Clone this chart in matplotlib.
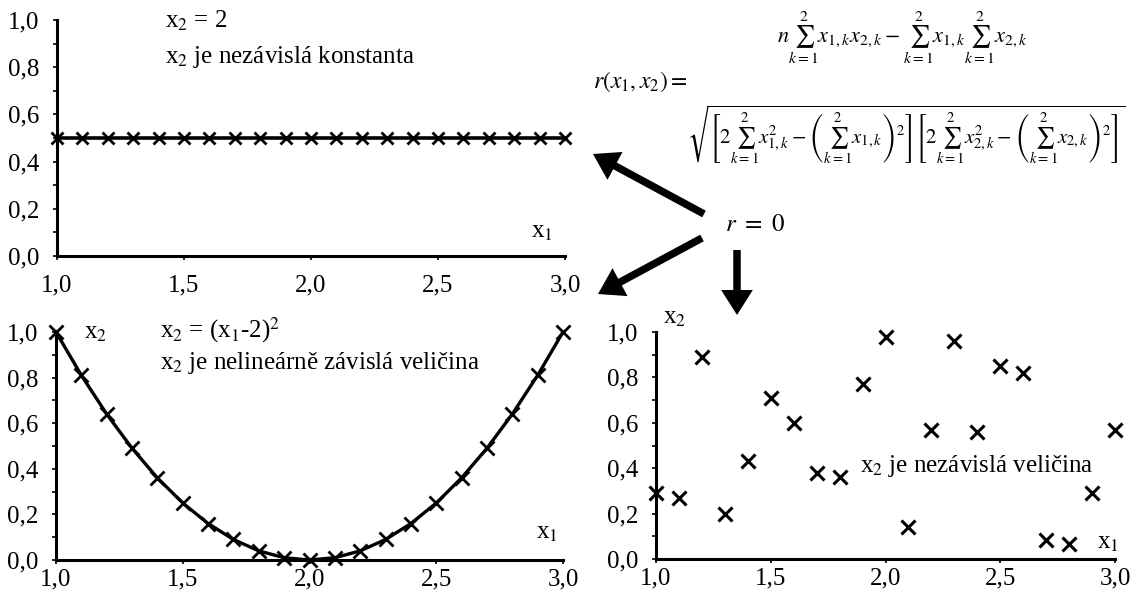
import matplotlib
matplotlib.use("Agg")
import matplotlib.pyplot as plt
from matplotlib.patches import FancyArrowPatch

plt.rcParams['font.family'] = ['Liberation Serif', 'DejaVu Serif']
plt.rcParams['mathtext.fontset'] = 'stix'

# ---------------- data ----------------
x1 = [1.0, 1.1, 1.2, 1.3, 1.4, 1.5, 1.6, 1.7, 1.8, 1.9, 2.0,
      2.1, 2.2, 2.3, 2.4, 2.5, 2.6, 2.7, 2.8, 2.9, 3.0]
x2_const = [0.5, 0.5, 0.5, 0.5, 0.5, 0.5, 0.5, 0.5, 0.5, 0.5, 0.5,
            0.5, 0.5, 0.5, 0.5, 0.5, 0.5, 0.5, 0.5, 0.5, 0.5]
x2_quad = [1.00, 0.81, 0.64, 0.49, 0.36, 0.25, 0.16, 0.09, 0.04, 0.01, 0.00,
           0.01, 0.04, 0.09, 0.16, 0.25, 0.36, 0.49, 0.64, 0.81, 1.00]
x2_rand = [0.29, 0.27, 0.89, 0.20, 0.43, 0.71, 0.60, 0.38, 0.36, 0.77, 0.98,
           0.14, 0.57, 0.96, 0.56, 0.85, 0.82, 0.085, 0.065, 0.29, 0.57]

xticks = [1.0, 1.5, 2.0, 2.5, 3.0]
xtick_labels = ["1,0", "1,5", "2,0", "2,5", "3,0"]
yticks = [0.0, 0.2, 0.4, 0.6, 0.8, 1.0]
ytick_labels = ["0,0", "0,2", "0,4", "0,6", "0,8", "1,0"]
yminor = [0.1, 0.3, 0.5, 0.7, 0.9]

W, H = 1139, 598
fig = plt.figure(figsize=(W / 100, H / 100), dpi=100)


def box(l, t, r, b):
    return [l / W, (H - b) / H, (r - l) / W, (b - t) / H]


def px(x, y):
    return (x / W, 1 - y / H)


def style(ax, xpad):
    ax.set_xlim(1.0, 3.0)
    ax.set_ylim(0.0, 1.0)
    for s in ('top', 'right'):
        ax.spines[s].set_visible(False)
    for s in ('left', 'bottom'):
        ax.spines[s].set_linewidth(2.2)
        ax.spines[s].set_color('black')
    ax.set_xticks(xticks)
    ax.set_xticklabels(xtick_labels)
    ax.set_yticks(yticks)
    ax.set_yticklabels(ytick_labels)
    ax.set_yticks(yminor, minor=True)
    ax.tick_params(axis='both', which='both', direction='out', length=3,
                   width=1.2, labelsize=18, colors='black')
    ax.tick_params(axis='x', pad=xpad)
    ax.tick_params(axis='y', pad=10)
    ax.patch.set_alpha(0)


# top-left
ax1 = fig.add_axes(box(57, 20, 565, 256))
style(ax1, 10)
ax1.plot(x1, x2_const, color='black', lw=2.6, marker='x', ms=9, mew=2,
         clip_on=False)
ax1.text(0.955, 0.10, r'x$_1$', transform=ax1.transAxes, fontsize=18,
         ha='center', va='center')

# bottom-left
ax2 = fig.add_axes(box(56, 332, 563, 560))
style(ax2, 3)
ax2.plot(x1, x2_quad, color='black', lw=2.4, marker='x', ms=10, mew=2,
         clip_on=False)
ax2.text(0.968, 0.12, r'x$_1$', transform=ax2.transAxes, fontsize=18,
         ha='center', va='center')
ax2.text(0.055, 0.995, r'x$_2$', transform=ax2.transAxes, fontsize=18,
         ha='left', va='center')

# bottom-right
ax3 = fig.add_axes(box(656, 332, 1115, 559))
style(ax3, 3)
ax3.plot(x1, x2_rand, linestyle='none', color='black', marker='x', ms=10,
         mew=2.2, clip_on=False)
ax3.text(0.985, 0.07, r'x$_1$', transform=ax3.transAxes, fontsize=18,
         ha='center', va='center')
ax3.text(0.015, 1.06, r'x$_2$', transform=ax3.transAxes, fontsize=18,
         ha='left', va='center')

# annotations
fig.text(*px(165, 21), r'x$_2$ = 2', fontsize=18, ha='left', va='center')
fig.text(*px(165, 57), r'x$_2$ je nezávislá konstanta', fontsize=18,
         ha='left', va='center')
fig.text(*px(160, 330), r'x$_2$ = (x$_1$-2)$^2$', fontsize=18, ha='left',
         va='center')
fig.text(*px(160, 363), r'x$_2$ je nelineárně závislá veličina', fontsize=18,
         ha='left', va='center')
fig.text(*px(860, 466), r'x$_2$ je nezávislá veličina', fontsize=18,
         ha='left', va='center')

# formula
fig.text(*px(640, 82), r'$r(x_1,x_2) =$', fontsize=17, ha='center',
         va='center')
fig.text(*px(902, 38),
         r'$n\sum_{k=1}^{2}x_{1,k}x_{2,k}-\sum_{k=1}^{2}x_{1,k}\sum_{k=1}^{2}x_{2,k}$',
         fontsize=16, ha='center', va='center')
fig.text(*px(906, 135),
         r'$\sqrt{\left[2\sum_{k=1}^{2}x_{1,k}^{2}-\left(\sum_{k=1}^{2}x_{1,k}\right)^{2}\right]'
         r'\left[2\sum_{k=1}^{2}x_{2,k}^{2}-\left(\sum_{k=1}^{2}x_{2,k}\right)^{2}\right]}$',
         fontsize=15, ha='center', va='center')
fig.text(*px(755, 225), r'$\mathit{r\ =\ 0}$', fontsize=18, ha='center',
         va='center')

# arrows
ov = fig.add_axes([0, 0, 1, 1])
ov.set_xlim(0, W)
ov.set_ylim(H, 0)
ov.axis('off')
ov.patch.set_alpha(0)
for tail, head in [((704, 214), (593, 154)),
                   ((702, 238), (598, 294)),
                   ((737, 250), (737, 315))]:
    ov.add_patch(FancyArrowPatch(tail, head,
                                 arrowstyle='simple,head_length=1.5,head_width=1.9,tail_width=0.45',
                                 mutation_scale=12, color='black', lw=0,
                                 shrinkA=0, shrinkB=0))

fig.savefig('out.png', dpi=100)
